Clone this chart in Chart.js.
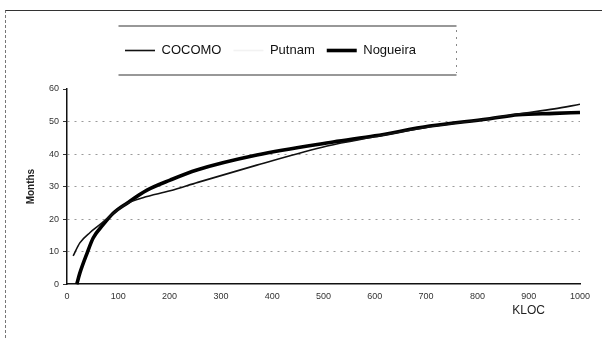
<!DOCTYPE html>
<html>
<head>
<meta charset="utf-8">
<script src="https://cdn.jsdelivr.net/npm/chart.js@4"></script>
<style>
  body { margin: 0; background: #fff; }
  #wrap { position: relative; width: 602px; height: 338px; }
  #frame {
    position: absolute; left: 5px; top: 10px; width: 597px; height: 328px;
    border-top: 1.5px solid #333; border-left: 1px dashed #777;
    box-sizing: border-box; pointer-events: none;
  }
</style>
</head>
<body>
<div id="wrap">
  <canvas id="chart" width="602" height="338"></canvas>
  <div id="frame"></div>
</div>
<script>
// values (KLOC vs. months)
const cocomoKloc   = [12, 25, 45, 64, 90, 117, 148, 201, 255, 370, 507, 600, 700, 820, 880, 950, 1000];
const cocomoMonths = [8.7, 12.7, 15.9, 18.3, 21.8, 24.8, 26.6, 28.7, 31.3, 36.6, 42.5, 45.3, 48.2, 50.8, 52.3, 53.9, 55.3];

// Putnam curve is not legible in the scan
const putnamKloc   = [];
const putnamMonths = [];

const nogueiraKloc   = [19, 25, 39, 51, 70, 90, 117, 156, 201, 253, 370, 519, 600, 707, 820, 880, 950, 1000];
const nogueiraMonths = [0, 3.4, 9.5, 14.2, 18.2, 21.8, 24.9, 28.9, 32, 35.1, 39.7, 43.7, 45.6, 48.6, 50.8, 52.1, 52.5, 52.8];

const xTicks = [0, 100, 200, 300, 400, 500, 600, 700, 800, 900, 1000];
const yTicks = [0, 10, 20, 30, 40, 50, 60];

const FONT = '"Liberation Sans", Arial, sans-serif';

function toPoints(xs, ys) {
    return xs.map((x, i) => ({ x: x, y: ys[i] }));
}

// legend sits a bit left of centre, with a box round it and a gap under it
const legendBox = {
    id: 'legendBox',
    beforeLayout(chart) {
        const lg = chart.legend;
        if (lg && !lg._padded) {
            const fit = lg.fit;
            lg.fit = function () { fit.call(this); this.height += 22; };
            lg._padded = true;
        }
    },
    afterLayout(chart) {
        chart.legend.left -= 32;
        chart.legend.right -= 32;
    },
    afterDraw(chart) {
        const lg = chart.legend;
        const ctx = chart.ctx;
        const cx = (lg.left + lg.right) / 2 + 17;
        const l = cx - 169, r = cx + 169;
        const t = lg.top - 6, b = lg.top + 43;
        ctx.save();
        ctx.strokeStyle = '#333';
        ctx.lineWidth = 1.2;
        ctx.beginPath();
        ctx.moveTo(l, t); ctx.lineTo(r, t);
        ctx.moveTo(l, b); ctx.lineTo(r, b);
        ctx.stroke();
        ctx.strokeStyle = '#888';
        ctx.lineWidth = 1;
        ctx.setLineDash([2, 5]);
        ctx.beginPath();
        ctx.moveTo(r, t + 4); ctx.lineTo(r, b - 2);
        ctx.stroke();
        ctx.restore();
    }
};

// "KLOC" title sits under the 900 tick in the original
const xTitle = {
    id: 'xTitle',
    afterDraw(chart) {
        const sx = chart.scales.x;
        const ctx = chart.ctx;
        ctx.save();
        ctx.font = '12px ' + FONT;
        ctx.fillStyle = '#222';
        ctx.textAlign = 'center';
        ctx.textBaseline = 'middle';
        ctx.fillText('KLOC', sx.getPixelForValue(900), sx.bottom + 6);
        ctx.restore();
    }
};

new Chart(document.getElementById('chart'), {
    type: 'line',
    data: {
        datasets: [{
            label: 'COCOMO',
            data: toPoints(cocomoKloc, cocomoMonths),
            borderColor: '#111',
            backgroundColor: '#111',
            borderWidth: 1.6,
            pointRadius: 0,
            cubicInterpolationMode: 'monotone',
            pointStyle: 'line'
        }, {
            label: 'Putnam',
            data: toPoints(putnamKloc, putnamMonths),
            borderColor: '#f2f2f2',
            backgroundColor: '#f2f2f2',
            borderWidth: 1.6,
            pointRadius: 0,
            pointStyle: 'line'
        }, {
            label: 'Nogueira',
            data: toPoints(nogueiraKloc, nogueiraMonths),
            borderColor: '#000',
            backgroundColor: '#000',
            borderWidth: 3.6,
            pointRadius: 0,
            cubicInterpolationMode: 'monotone',
            pointStyle: 'line',
            clip: 4
        }]
    },
    options: {
        responsive: false,
        animation: false,
        layout: { padding: { top: 32, left: 25, right: 22, bottom: 33 } },
        plugins: {
            legend: {
                position: 'top',
                labels: {
                    usePointStyle: true,
                    pointStyleWidth: 30,
                    padding: 12,
                    color: '#111',
                    font: { family: FONT, size: 13 }
                }
            },
            tooltip: { enabled: false }
        },
        scales: {
            x: {
                type: 'linear',
                min: 0,
                max: 1000,
                afterBuildTicks(axis) { axis.ticks = xTicks.map(v => ({ value: v })); },
                grid: { display: false, drawTicks: true, tickLength: 4 },
                border: { color: '#111', width: 1.5 },
                ticks: {
                    color: '#333', padding: 3, maxRotation: 0,
                    font: { family: FONT, size: 9 },
                    callback: v => String(v)
                }
            },
            y: {
                min: 0,
                max: 60,
                afterBuildTicks(axis) { axis.ticks = yTicks.map(v => ({ value: v })); },
                grid: {
                    color: ctx => (ctx.tick && (ctx.tick.value === 0 || ctx.tick.value === 60)) ? 'rgba(0,0,0,0)' : '#9a9a9a',
                    tickColor: '#333',
                    tickLength: 4,
                    tickBorderDash: [],
                    lineWidth: 1
                },
                border: { color: '#111', width: 1.5, dash: [2, 5] },
                ticks: { color: '#333', padding: 4, font: { family: FONT, size: 9 } },
                title: {
                    display: true,
                    text: 'Months',
                    color: '#222',
                    padding: { top: 0, bottom: 8 },
                    font: { family: FONT, size: 10, weight: 'bold' }
                }
            }
        }
    },
    plugins: [legendBox, xTitle]
});
</script>
</body>
</html>
